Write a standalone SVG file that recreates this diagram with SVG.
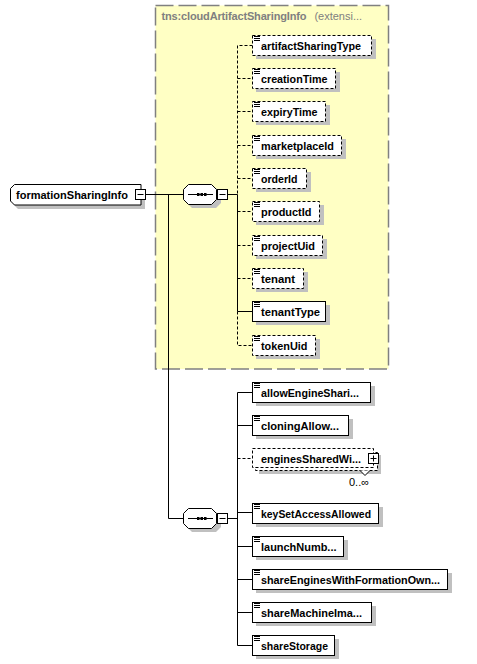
<svg xmlns="http://www.w3.org/2000/svg" width="477" height="664" viewBox="0 0 477 664">
<style>
text{font-family:"Liberation Sans",Arial,sans-serif;}
.n{font-size:11.5px;font-weight:bold;fill:#000;}
.box{fill:#fff;stroke:#000;stroke-width:1;}
.opt{stroke-dasharray:3,2;}
.sh{fill:#c0c0c0;}
.ln{stroke:#000;stroke-width:1;fill:none;}
.dl{stroke:#000;stroke-width:1;fill:none;stroke-dasharray:3,2;}
.ic{stroke:#000;stroke-width:1;fill:none;}
</style>
<defs>
<path id="icon" class="ic" d="M2,1.5H8M2,3.5H8M2,5.5H8"/>
</defs>
<rect x="155.5" y="5.5" width="233" height="363.5" fill="#ffffc4" stroke="#808080" stroke-width="1.5" stroke-dasharray="18,5"/>
<text x="161.5" y="20" font-size="11" fill="#808080"><tspan font-weight="bold" textLength="145">tns:cloudArtifactSharingInfo</tspan><tspan dx="5"> (extensi...</tspan></text>

<g id="connectors">
<path class="ln" d="M146,194.5H183"/>
<path class="ln" d="M168.5,194.5V518.5H183"/>
<path class="ln" d="M227.5,194.5H237.5"/>
<path class="dl" d="M252.5,45.5H237.5V194.5"/>
<path class="ln" d="M237.5,194.5V311.5H252.5"/>
<path class="dl" d="M237.5,311.5V345.5H252.5"/>
<path class="dl" d="M237.5,78.5H252.5M237.5,111.5H252.5M237.5,145.5H252.5M237.5,178.5H252.5M237.5,211.5H252.5M237.5,245.5H252.5M237.5,278.5H252.5"/>
<path class="ln" d="M227.5,518.5H237.5"/>
<path class="ln" d="M252.5,392.5H237.5V645.5H252.5"/>
<path class="ln" d="M237.5,425.5H252.5M237.5,512.5H252.5M237.5,546.5H252.5M237.5,579.5H252.5M237.5,612.5H252.5"/>
<path class="dl" d="M237.5,458.5H252.5"/>
</g>

<g id="formationSharingInfo">
<path class="sh" d="M18,189H145V209H18L14,205V193Z"/>
<path class="box" d="M14.5,184.5H141V205H14.5L10.5,201V188.5Z"/>
<text class="n" x="16" y="199" textLength="112" lengthAdjust="spacingAndGlyphs">formationSharingInfo</text>
<rect class="box" x="135.5" y="189.5" width="10" height="10"/>
<path class="ln" d="M137.5,194.5H143.5"/>
</g>

<g id="sequence1">
<path class="sh" d="M192,188H216L221,193V203L216,208H192L187,203V193Z"/>
<path class="box" d="M188.5,184.5H211.5L216.5,189.5V199.5L211.5,204.5H188.5L183.5,199.5V189.5Z"/>
<path class="ln" d="M188,194.5H213"/>
<rect x="197" y="193" width="2.5" height="3" fill="#000"/>
<rect x="200.5" y="193" width="2.5" height="3" fill="#000"/>
<rect x="204" y="193" width="2.5" height="3" fill="#000"/>
<rect class="box" x="217.5" y="189.5" width="10" height="10"/>
<path class="ln" d="M219.5,194.5H225.5"/>
</g>

<g id="sequence2">
<path class="sh" d="M192,512H216L221,517V527L216,532H192L187,527V517Z"/>
<path class="box" d="M188.5,508.5H211.5L216.5,513.5V523.5L211.5,528.5H188.5L183.5,523.5V513.5Z"/>
<path class="ln" d="M188,518.5H213"/>
<rect x="197" y="517" width="2.5" height="3" fill="#000"/>
<rect x="200.5" y="517" width="2.5" height="3" fill="#000"/>
<rect x="204" y="517" width="2.5" height="3" fill="#000"/>
<rect class="box" x="217.5" y="513.5" width="10" height="10"/>
<path class="ln" d="M219.5,518.5H225.5"/>
</g>

<g id="artifactSharingType">
<rect class="sh" x="256" y="39" width="120" height="20"/>
<rect class="box opt" x="252.5" y="35.5" width="119" height="20"/>
<use href="#icon" x="252" y="35"/>
<text class="n" x="261" y="49.5" textLength="100" lengthAdjust="spacingAndGlyphs">artifactSharingType</text>
</g>
<g id="creationTime">
<rect class="sh" x="256" y="72" width="84" height="20"/>
<rect class="box opt" x="252.5" y="68.5" width="83" height="20"/>
<use href="#icon" x="252" y="68"/>
<text class="n" x="261" y="82.5" textLength="66.5" lengthAdjust="spacingAndGlyphs">creationTime</text>
</g>
<g id="expiryTime">
<rect class="sh" x="256" y="105" width="74" height="20"/>
<rect class="box opt" x="252.5" y="101.5" width="73" height="20"/>
<use href="#icon" x="252" y="101"/>
<text class="n" x="261" y="115.5" textLength="56.5" lengthAdjust="spacingAndGlyphs">expiryTime</text>
</g>
<g id="marketplaceId">
<rect class="sh" x="256" y="139" width="90" height="20"/>
<rect class="box opt" x="252.5" y="135.5" width="89" height="20"/>
<use href="#icon" x="252" y="135"/>
<text class="n" x="261" y="149.5" textLength="73" lengthAdjust="spacingAndGlyphs">marketplaceId</text>
</g>
<g id="orderId">
<rect class="sh" x="256" y="172" width="55" height="20"/>
<rect class="box opt" x="252.5" y="168.5" width="54" height="20"/>
<use href="#icon" x="252" y="168"/>
<text class="n" x="261" y="182.5" textLength="36.5" lengthAdjust="spacingAndGlyphs">orderId</text>
</g>
<g id="productId">
<rect class="sh" x="256" y="205" width="68" height="20"/>
<rect class="box opt" x="252.5" y="201.5" width="67" height="20"/>
<use href="#icon" x="252" y="201"/>
<text class="n" x="261" y="215.5" textLength="50.5" lengthAdjust="spacingAndGlyphs">productId</text>
</g>
<g id="projectUid">
<rect class="sh" x="256" y="239" width="71" height="20"/>
<rect class="box opt" x="252.5" y="235.5" width="70" height="20"/>
<use href="#icon" x="252" y="235"/>
<text class="n" x="261" y="249.5" textLength="54" lengthAdjust="spacingAndGlyphs">projectUid</text>
</g>
<g id="tenant">
<rect class="sh" x="256" y="272" width="52" height="20"/>
<rect class="box opt" x="252.5" y="268.5" width="51" height="20"/>
<use href="#icon" x="252" y="268"/>
<text class="n" x="261" y="282.5" textLength="34" lengthAdjust="spacingAndGlyphs">tenant</text>
</g>
<g id="tenantType">
<rect class="sh" x="256" y="305" width="74" height="20"/>
<rect class="box" x="252.5" y="301.5" width="73" height="20"/>
<use href="#icon" x="252" y="301"/>
<text class="n" x="261" y="315.5" textLength="59" lengthAdjust="spacingAndGlyphs">tenantType</text>
</g>
<g id="tokenUid">
<rect class="sh" x="256" y="339" width="64" height="20"/>
<rect class="box opt" x="252.5" y="335.5" width="63" height="20"/>
<use href="#icon" x="252" y="335"/>
<text class="n" x="261" y="349.5" textLength="46.5" lengthAdjust="spacingAndGlyphs">tokenUid</text>
</g>

<g id="allowEngineSharing">
<rect class="sh" x="256" y="386" width="119" height="20"/>
<rect class="box" x="252.5" y="382.5" width="118" height="20"/>
<use href="#icon" x="252" y="382"/>
<text class="n" x="261" y="396.5" textLength="98" lengthAdjust="spacingAndGlyphs">allowEngineShari...</text>
</g>
<g id="cloningAllowed">
<rect class="sh" x="256" y="419" width="97" height="20"/>
<rect class="box" x="252.5" y="415.5" width="96" height="20"/>
<use href="#icon" x="252" y="415"/>
<text class="n" x="261" y="429.5" textLength="78" lengthAdjust="spacingAndGlyphs">cloningAllow...</text>
</g>
<g id="enginesSharedWith">
<rect class="sh" x="259" y="455" width="122" height="19"/>
<rect class="box opt" x="255.5" y="452.5" width="122" height="18"/>
<rect class="box opt" x="252.5" y="448.5" width="121" height="19"/>
<text class="n" x="261" y="462.5" textLength="100" lengthAdjust="spacingAndGlyphs">enginesSharedWi...</text>
<rect class="box" x="368.5" y="453.5" width="10" height="10"/>
<path class="ln" d="M370.5,458.5H376.5M373.5,455.5V461.5"/>
<path d="M360,470.5L365,475.5L370,470.5" fill="#fff" stroke="#000" stroke-width="1"/>
<text x="349" y="486" font-size="11" fill="#000">0..∞</text>
</g>
<g id="keySetAccessAllowed">
<rect class="sh" x="256" y="507" width="127" height="20"/>
<rect class="box" x="252.5" y="503.5" width="126" height="20"/>
<use href="#icon" x="252" y="503"/>
<text class="n" x="261" y="517.5" textLength="110" lengthAdjust="spacingAndGlyphs">keySetAccessAllowed</text>
</g>
<g id="launchNumber">
<rect class="sh" x="256" y="540" width="92" height="20"/>
<rect class="box" x="252.5" y="536.5" width="91" height="20"/>
<use href="#icon" x="252" y="536"/>
<text class="n" x="261" y="550.5" textLength="75.5" lengthAdjust="spacingAndGlyphs">launchNumb...</text>
</g>
<g id="shareEnginesWithFormationOwner">
<rect class="sh" x="256" y="573" width="196" height="20"/>
<rect class="box" x="252.5" y="569.5" width="195" height="20"/>
<use href="#icon" x="252" y="569"/>
<text class="n" x="261" y="583.5" textLength="179" lengthAdjust="spacingAndGlyphs">shareEnginesWithFormationOwn...</text>
</g>
<g id="shareMachineImages">
<rect class="sh" x="256" y="606" width="120" height="20"/>
<rect class="box" x="252.5" y="602.5" width="119" height="20"/>
<use href="#icon" x="252" y="602"/>
<text class="n" x="261" y="616.5" textLength="101" lengthAdjust="spacingAndGlyphs">shareMachineIma...</text>
</g>
<g id="shareStorage">
<rect class="sh" x="256" y="639" width="83" height="20"/>
<rect class="box" x="252.5" y="635.5" width="82" height="20"/>
<use href="#icon" x="252" y="635"/>
<text class="n" x="261" y="649.5" textLength="67" lengthAdjust="spacingAndGlyphs">shareStorage</text>
</g>
</svg>
